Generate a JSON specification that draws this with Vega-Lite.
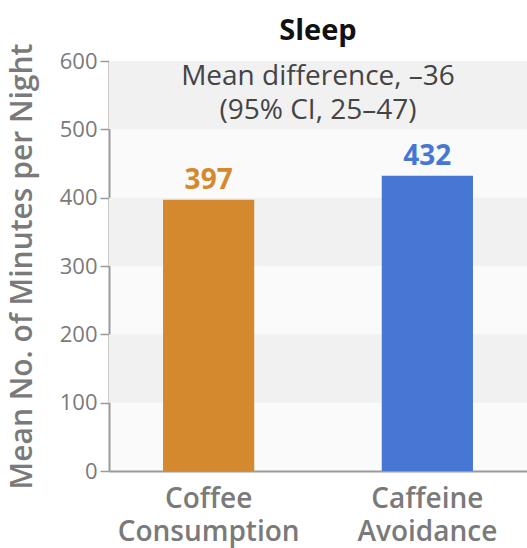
{
  "$schema": "https://vega.github.io/schema/vega-lite/v6.json",
  "width": 418,
  "height": 410,
  "autosize": "none",
  "padding": {"left": 109, "top": 61, "right": 0, "bottom": 77},
  "background": "white",
  "config": {
    "view": {"fill": "#fafafa", "stroke": null},
    "font": "Open Sans"
  },
  "title": {
    "text": "Sleep",
    "fontSize": 29,
    "fontWeight": "bold",
    "color": "#111111",
    "font": "Open Sans",
    "anchor": "middle",
    "offset": -3
  },
  "datasets": {
    "bands": [
      {"lo": 100, "hi": 200},
      {"lo": 300, "hi": 400},
      {"lo": 500, "hi": 600}
    ],
    "bars": [
      {"group": "Coffee Consumption", "minutes": 397},
      {"group": "Caffeine Avoidance", "minutes": 432}
    ]
  },
  "layer": [
    {
      "data": {"name": "bands"},
      "mark": {"type": "rect", "fill": "#f1f1f1"},
      "encoding": {
        "y": {"field": "lo", "type": "quantitative", "scale": {"domain": [0, 600]}},
        "y2": {"field": "hi"}
      }
    },
    {
      "data": {"name": "bars"},
      "mark": {"type": "bar"},
      "encoding": {
        "x": {
          "field": "group",
          "type": "nominal",
          "sort": null,
          "scale": {"paddingInner": 0.583, "paddingOuter": 0.247},
          "axis": {
            "title": null,
            "labelExpr": "split(datum.label, ' ')",
            "labelAngle": 0,
            "labelFontSize": 28,
            "labelFontWeight": 600,
            "labelColor": "#7a7a7a",
            "labelLineHeight": 33,
            "labelPadding": 14,
            "labelLimit": 400,
            "ticks": false,
            "domainColor": "#9a9a9a",
            "domainWidth": 2
          }
        },
        "y": {
          "field": "minutes",
          "type": "quantitative",
          "scale": {"domain": [0, 600], "nice": false},
          "axis": {
            "title": "Mean No. of Minutes per Night",
            "titleFontSize": 30,
            "titleFontWeight": 600,
            "titleColor": "#7a7a7a",
            "titlePadding": 22,
            "values": [0, 100, 200, 300, 400, 500, 600],
            "labelFontSize": 22,
            "labelColor": "#7a7a7a",
            "labelPadding": 3,
            "tickSize": 9,
            "tickColor": "#9a9a9a",
            "tickWidth": 1.5,
            "domainColor": "#9a9a9a",
            "domainWidth": 2,
            "grid": false
          }
        },
        "color": {
          "field": "group",
          "type": "nominal",
          "scale": {"domain": ["Coffee Consumption", "Caffeine Avoidance"], "range": ["#d4892f", "#4677d4"]},
          "legend": null
        }
      }
    },
    {
      "data": {"name": "bars"},
      "mark": {"type": "text", "baseline": "alphabetic", "dy": -11, "fontSize": 28, "fontWeight": "bold", "font": "Open Sans"},
      "encoding": {
        "x": {"field": "group", "type": "nominal", "sort": null},
        "y": {"field": "minutes", "type": "quantitative"},
        "text": {"field": "minutes", "type": "quantitative"},
        "color": {"field": "group", "type": "nominal", "legend": null}
      }
    },
    {
      "data": {"values": [{"text": "Mean difference, –36\n(95% CI, 25–47)"}]},
      "mark": {"type": "text", "fontSize": 28, "color": "#444444", "font": "Open Sans", "lineBreak": "\n", "lineHeight": 34, "baseline": "middle"},
      "encoding": {
        "y": {"datum": 577, "type": "quantitative"},
        "text": {"field": "text", "type": "nominal"}
      }
    }
  ]
}
